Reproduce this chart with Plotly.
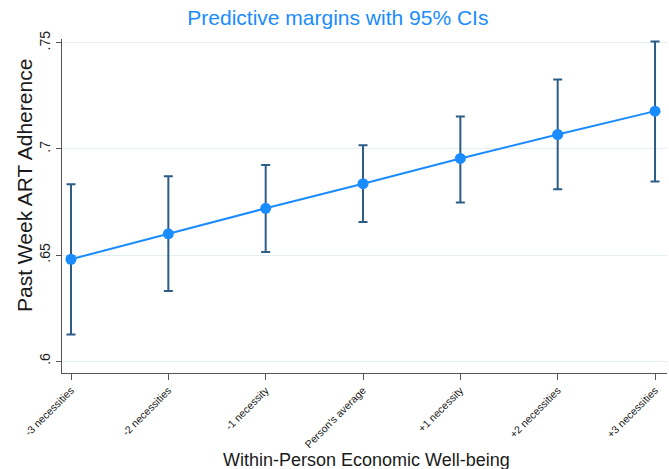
import plotly.graph_objects as go

# Predictive margins of past-week ART adherence by within-person economic well-being
categories = ["-3 necessities", "-2 necessities", "-1 necessity", "Person's average",
              "+1 necessity", "+2 necessities", "+3 necessities"]
margins = [0.648, 0.660, 0.672, 0.6836, 0.6955, 0.7068, 0.7178]
ci_upper = [0.6833, 0.6871, 0.6924, 0.7017, 0.7153, 0.7327, 0.7506]
ci_lower = [0.6126, 0.6331, 0.6514, 0.6656, 0.6748, 0.6810, 0.6846]

y_tickvals = [0.6, 0.65, 0.7, 0.75]
y_ticktext = [".6", ".65", ".7", ".75"]

FONT = "Liberation Sans, Arial, sans-serif"
LINE_BLUE = "#1a8cff"
CI_BLUE = "#2d5d86"

x_idx = list(range(len(categories)))
err_plus = [u - m for u, m in zip(ci_upper, margins)]
err_minus = [m - l for m, l in zip(margins, ci_lower)]

fig = go.Figure()
fig.add_trace(go.Scatter(
    x=x_idx, y=margins,
    mode="lines+markers",
    line=dict(color=LINE_BLUE, width=2),
    marker=dict(color=LINE_BLUE, size=11),
    error_y=dict(type="data", symmetric=False, array=err_plus, arrayminus=err_minus,
                 color=CI_BLUE, thickness=2, width=4.5),
    showlegend=False,
    hoverinfo="skip",
))

fig.update_layout(
    width=669, height=469,
    margin=dict(l=62, r=2, t=39, b=96),
    paper_bgcolor="white", plot_bgcolor="white",
    font=dict(family=FONT, color="#1a1a1a"),
    title=dict(text="Predictive margins with 95% CIs", xref="container", x=0.505,
               xanchor="center", yref="container", y=1 - 17.5 / 469, yanchor="middle",
               font=dict(size=21, color=LINE_BLUE, family=FONT)),
    xaxis=dict(
        range=[-0.0925, 6.123],
        tickmode="array", tickvals=x_idx, ticktext=categories,
        tickangle=-45, tickfont=dict(size=10.5, color="#1a1a1a"),
        ticks="outside", ticklen=6, tickwidth=1.3, tickcolor="#555555",
        showline=True, linecolor="#555555", linewidth=1.3,
        showgrid=False, zeroline=False,
    ),
    yaxis=dict(
        range=[0.5944, 0.7518],
        tickmode="array", tickvals=y_tickvals, ticktext=y_ticktext,
        tickangle=-90, tickfont=dict(size=14, color="#1a1a1a"),
        ticks="outside", ticklen=5, tickwidth=1.3, tickcolor="#555555",
        showline=True, linecolor="#555555", linewidth=1.3,
        showgrid=True, gridcolor="#e3eef0", gridwidth=1,
        zeroline=False,
    ),
    annotations=[
        dict(text="Within-Person Economic Well-being", xref="paper", yref="paper",
             x=(366 - 62) / 605, y=(373 - 460) / 334, xanchor="center", yanchor="middle",
             showarrow=False, font=dict(size=18, color="#1a1a1a", family=FONT)),
        dict(text="Past Week ART Adherence", xref="paper", yref="paper",
             x=(24 - 62) / 605, y=(373 - 186) / 334, xanchor="center", yanchor="middle",
             textangle=-90, showarrow=False,
             font=dict(size=21, color="#1a1a1a", family=FONT)),
    ],
)

fig.write_html("out.html")
